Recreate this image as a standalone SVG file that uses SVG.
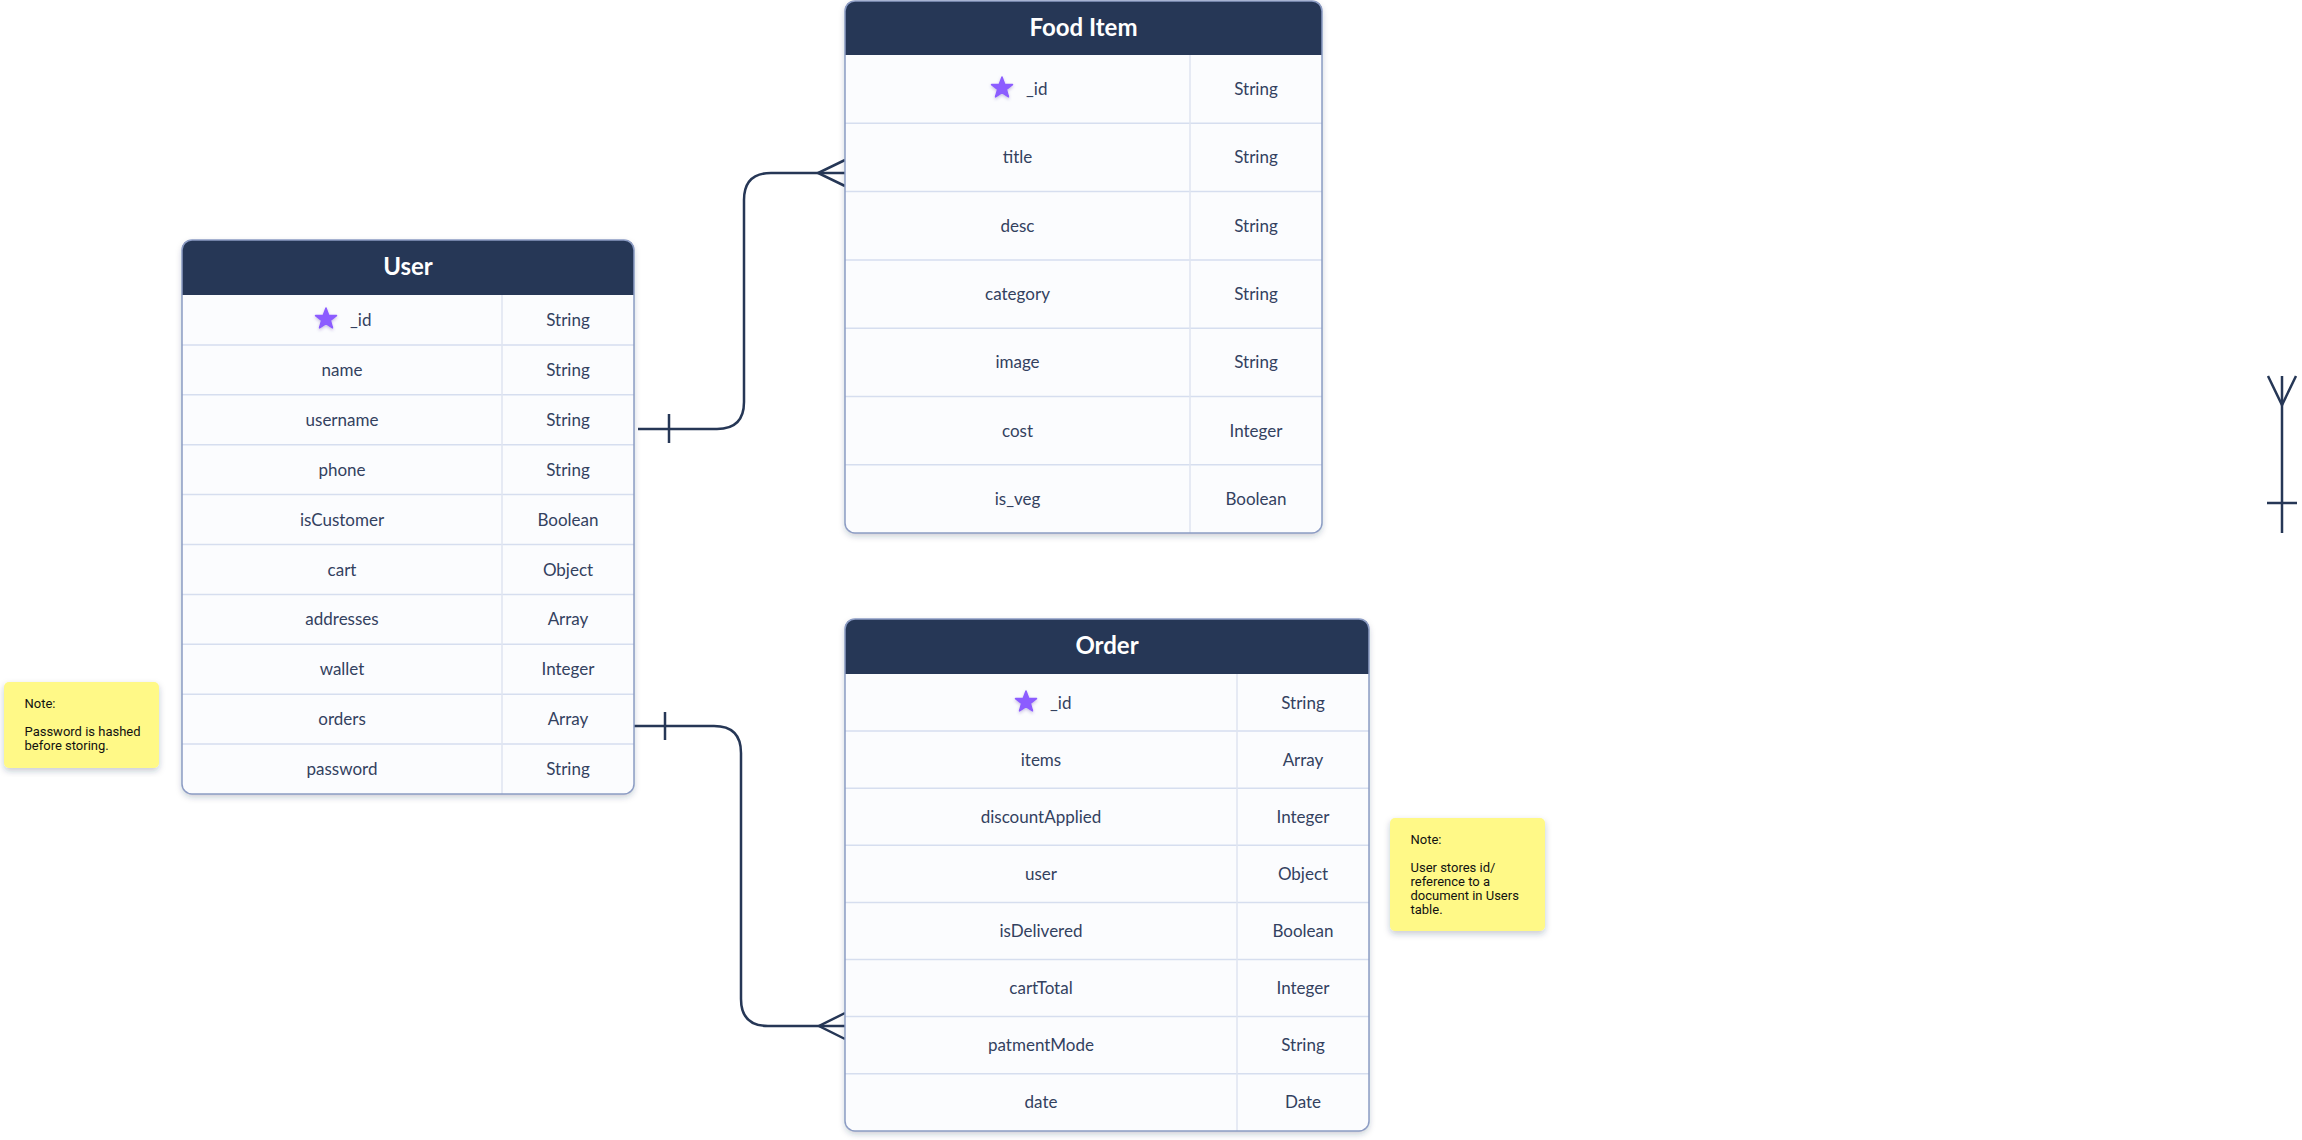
<svg xmlns="http://www.w3.org/2000/svg" xmlns:xlink="http://www.w3.org/1999/xlink" width="2302" height="1140" viewBox="0 0 2302 1140">
<defs>
<style>
.tbl{fill:#fbfcfe;}
.hdr{fill:#263756;}
.frame{fill:none;stroke:#8c9cc4;stroke-width:1.5;}
.sep{stroke:#d6deef;stroke-width:1.5;}
.col{stroke:#dfe5f1;stroke-width:1.5;}
.title{font-family:Lato,"Noto Sans",sans-serif;font-weight:700;font-size:24px;fill:#ffffff;text-anchor:middle;}
.cell{font-family:Lato,"Noto Sans",sans-serif;font-size:17px;fill:#33415f;text-anchor:middle;}
.idt{font-family:Lato,"Noto Sans",sans-serif;font-size:17px;fill:#33415f;}
.conn{fill:none;stroke:#263756;stroke-width:2.5;stroke-linecap:butt;stroke-linejoin:miter;}
.note{fill:#fff987;}
.ntxt{font-family:Roboto,"Liberation Sans",sans-serif;font-size:13px;fill:#111111;}
.star{fill:#8c5cff;stroke:#8c5cff;stroke-width:1.5;stroke-linejoin:round;}
</style>
<filter id="sh" x="-10%" y="-10%" width="120%" height="120%">
<feDropShadow dx="0" dy="3" stdDeviation="3" flood-color="#27354f" flood-opacity="0.25"/>
</filter>
<filter id="ssh" x="-30%" y="-30%" width="160%" height="160%">
<feDropShadow dx="0" dy="1.5" stdDeviation="1.5" flood-color="#4a2fa0" flood-opacity="0.3"/>
</filter>
<symbol id="star" viewBox="-12 -12 24 24" overflow="visible">
<path class="star" d="M0,-11 L2.7,-3.7 L10.5,-3.4 L4.4,1.4 L6.5,8.9 L0,4.6 L-6.5,8.9 L-4.4,1.4 L-10.5,-3.4 L-2.7,-3.7 Z"/>
</symbol>
</defs>
<rect x="0" y="0" width="2302" height="1140" fill="#ffffff"/>

<g id="connectors">
<path class="conn" d="M638,429 H717 Q744,429 744,402 V200 Q744,173 771,173 H845"/>
<path class="conn" d="M845,160 L818,173 L845,186"/>
<path class="conn" d="M669,414 V443"/>
<path class="conn" d="M634,726 H714 Q741,726 741,753 V999 Q741,1026 768,1026 H845"/>
<path class="conn" d="M845,1013 L819,1026 L845,1039"/>
<path class="conn" d="M665,712 V740"/>
<path class="conn" d="M2282,376 V533"/>
<path class="conn" d="M2268,376 L2282,405 L2296,376"/>
<path class="conn" d="M2267,503 H2297"/>
</g>

<g id="user">
<rect class="tbl" x="182" y="240" width="452" height="554" rx="10" filter="url(#sh)"/>
<path class="hdr" d="M182,295 V250 Q182,240 192,240 H624 Q634,240 634,250 V295 Z"/>
<text class="title" x="408" y="275">User</text>
<g>
<line class="sep" x1="182" y1="344.9" x2="634" y2="344.9"/>
<line class="sep" x1="182" y1="394.8" x2="634" y2="394.8"/>
<line class="sep" x1="182" y1="444.7" x2="634" y2="444.7"/>
<line class="sep" x1="182" y1="494.6" x2="634" y2="494.6"/>
<line class="sep" x1="182" y1="544.5" x2="634" y2="544.5"/>
<line class="sep" x1="182" y1="594.4" x2="634" y2="594.4"/>
<line class="sep" x1="182" y1="644.3" x2="634" y2="644.3"/>
<line class="sep" x1="182" y1="694.2" x2="634" y2="694.2"/>
<line class="sep" x1="182" y1="744.1" x2="634" y2="744.1"/>
<line class="col" x1="502" y1="295" x2="502" y2="794"/>
</g>
<use xlink:href="#star" x="314" y="307" width="24" height="24" filter="url(#ssh)"/>
<text class="idt" x="350" y="326">_id</text>
<text class="cell" x="342" y="375.9">name</text>
<text class="cell" x="342" y="425.8">username</text>
<text class="cell" x="342" y="475.6">phone</text>
<text class="cell" x="342" y="525.6">isCustomer</text>
<text class="cell" x="342" y="575.5">cart</text>
<text class="cell" x="342" y="625.4">addresses</text>
<text class="cell" x="342" y="675.3">wallet</text>
<text class="cell" x="342" y="725.2">orders</text>
<text class="cell" x="342" y="775.1">password</text>
<text class="cell" x="568" y="326">String</text>
<text class="cell" x="568" y="375.9">String</text>
<text class="cell" x="568" y="425.8">String</text>
<text class="cell" x="568" y="475.6">String</text>
<text class="cell" x="568" y="525.6">Boolean</text>
<text class="cell" x="568" y="575.5">Object</text>
<text class="cell" x="568" y="625.4">Array</text>
<text class="cell" x="568" y="675.3">Integer</text>
<text class="cell" x="568" y="725.2">Array</text>
<text class="cell" x="568" y="775.1">String</text>
<rect class="frame" x="182" y="240" width="452" height="554" rx="10"/>
</g>

<g id="food-item">
<rect class="tbl" x="845" y="1" width="477" height="532" rx="10" filter="url(#sh)"/>
<path class="hdr" d="M845,55 V11 Q845,1 855,1 H1312 Q1322,1 1322,11 V55 Z"/>
<text class="title" x="1083.5" y="36">Food Item</text>
<g>
<line class="sep" x1="845" y1="123.3" x2="1322" y2="123.3"/>
<line class="sep" x1="845" y1="191.6" x2="1322" y2="191.6"/>
<line class="sep" x1="845" y1="259.9" x2="1322" y2="259.9"/>
<line class="sep" x1="845" y1="328.2" x2="1322" y2="328.2"/>
<line class="sep" x1="845" y1="396.4" x2="1322" y2="396.4"/>
<line class="sep" x1="845" y1="464.7" x2="1322" y2="464.7"/>
<line class="col" x1="1190" y1="55" x2="1190" y2="533"/>
</g>
<use xlink:href="#star" x="990" y="76" width="24" height="24" filter="url(#ssh)"/>
<text class="idt" x="1026" y="95">_id</text>
<text class="cell" x="1017.5" y="163.4">title</text>
<text class="cell" x="1017.5" y="231.7">desc</text>
<text class="cell" x="1017.5" y="300">category</text>
<text class="cell" x="1017.5" y="368.3">image</text>
<text class="cell" x="1017.5" y="436.6">cost</text>
<text class="cell" x="1017.5" y="504.9">is_veg</text>
<text class="cell" x="1256" y="95">String</text>
<text class="cell" x="1256" y="163.4">String</text>
<text class="cell" x="1256" y="231.7">String</text>
<text class="cell" x="1256" y="300">String</text>
<text class="cell" x="1256" y="368.3">String</text>
<text class="cell" x="1256" y="436.6">Integer</text>
<text class="cell" x="1256" y="504.9">Boolean</text>
<rect class="frame" x="845" y="1" width="477" height="532" rx="10"/>
</g>

<g id="order">
<rect class="tbl" x="845" y="619" width="524" height="512" rx="10" filter="url(#sh)"/>
<path class="hdr" d="M845,674 V629 Q845,619 855,619 H1359 Q1369,619 1369,629 V674 Z"/>
<text class="title" x="1107" y="654">Order</text>
<g>
<line class="sep" x1="845" y1="731.1" x2="1369" y2="731.1"/>
<line class="sep" x1="845" y1="788.2" x2="1369" y2="788.2"/>
<line class="sep" x1="845" y1="845.3" x2="1369" y2="845.3"/>
<line class="sep" x1="845" y1="902.4" x2="1369" y2="902.4"/>
<line class="sep" x1="845" y1="959.5" x2="1369" y2="959.5"/>
<line class="sep" x1="845" y1="1016.6" x2="1369" y2="1016.6"/>
<line class="sep" x1="845" y1="1073.7" x2="1369" y2="1073.7"/>
<line class="col" x1="1237" y1="674" x2="1237" y2="1131"/>
</g>
<use xlink:href="#star" x="1014" y="690" width="24" height="24" filter="url(#ssh)"/>
<text class="idt" x="1050" y="708.6">_id</text>
<text class="cell" x="1041" y="765.7">items</text>
<text class="cell" x="1041" y="822.8">discountApplied</text>
<text class="cell" x="1041" y="879.9">user</text>
<text class="cell" x="1041" y="937">isDelivered</text>
<text class="cell" x="1041" y="994.1">cartTotal</text>
<text class="cell" x="1041" y="1051.2">patmentMode</text>
<text class="cell" x="1041" y="1108.3">date</text>
<text class="cell" x="1303" y="708.6">String</text>
<text class="cell" x="1303" y="765.7">Array</text>
<text class="cell" x="1303" y="822.8">Integer</text>
<text class="cell" x="1303" y="879.9">Object</text>
<text class="cell" x="1303" y="937">Boolean</text>
<text class="cell" x="1303" y="994.1">Integer</text>
<text class="cell" x="1303" y="1051.2">String</text>
<text class="cell" x="1303" y="1108.3">Date</text>
<rect class="frame" x="845" y="619" width="524" height="512" rx="10"/>
</g>

<g id="note-password">
<rect class="note" x="4" y="682" width="155" height="86" rx="5" filter="url(#sh)"/>
<text class="ntxt" x="24.5" y="708">Note:</text>
<text class="ntxt" x="24.5" y="736">Password is hashed</text>
<text class="ntxt" x="24.5" y="750">before storing.</text>
</g>

<g id="note-user">
<rect class="note" x="1390" y="818" width="155" height="113" rx="5" filter="url(#sh)"/>
<text class="ntxt" x="1410.5" y="844">Note:</text>
<text class="ntxt" x="1410.5" y="872">User stores id/</text>
<text class="ntxt" x="1410.5" y="886">reference to a</text>
<text class="ntxt" x="1410.5" y="900">document in Users</text>
<text class="ntxt" x="1410.5" y="914">table.</text>
</g>
</svg>
